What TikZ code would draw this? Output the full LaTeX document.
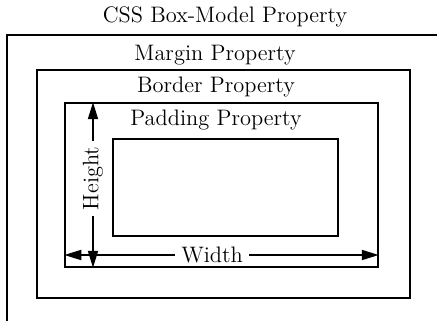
\documentclass[tikz,border=0pt]{standalone}
\usetikzlibrary{arrows.meta, positioning, fit}
\tikzset{
  boxnode/.style={
    rectangle, draw=black, line width=0.75pt, inner sep=0pt
  },
  labeltext/.style={font=\fontsize{11.2}{13}\selectfont, inner sep=1pt},
  dimarrow/.style={{Triangle[length=8.5pt,width=5pt]}-{Triangle[length=8.5pt,width=5pt]}, line width=0.95pt},
}

\begin{document}
\begin{tikzpicture}[x=0.5pt, y=-0.5pt]
    \clip (0,0) rectangle (437,320);
    % nested boxes, outer one runs off the page
    \node[boxnode, line width=1.1pt, fit={(7,35) (460,345)}] (margin) {};
    \node[boxnode, fit={(37,70) (410,298)}]  (border)  {};
    \node[boxnode, fit={(65,103) (378,267)}] (padding) {};
    \node[boxnode, fit={(113,139) (338,236)}] (content) {};

    \node[labeltext] (title)   at (225,17)  {CSS Box-Model Property};
    \node[labeltext] (marlbl)  at (215,55)  {Margin Property};
    \node[labeltext] (borlbl)  at (216,87)  {Border Property};
    \node[labeltext] (padlbl)  at (216,120) {Padding Property};

    % dimension arrows
    \draw[dimarrow] (padding.north -| 93,0) -- (padding.south -| 93,0)
        node[labeltext, pos=0.46, rotate=90, fill=white, inner xsep=3pt] (hgt) {Height};
    \draw[dimarrow] (padding.west |- 0,255) -- (padding.east |- 0,255)
        node[labeltext, pos=0.47, fill=white, inner xsep=3pt] (wid) {Width};
\end{tikzpicture}
\end{document}
